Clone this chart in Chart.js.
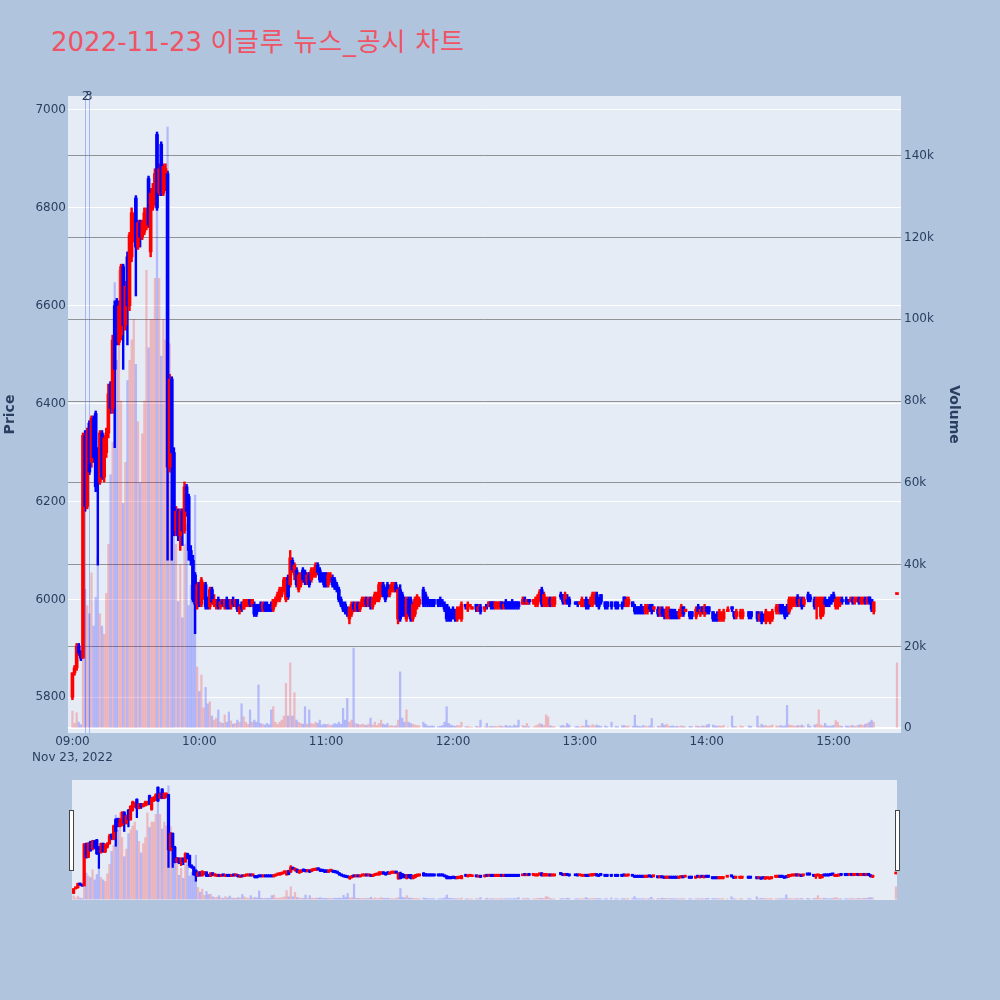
<!DOCTYPE html>
<html><head><meta charset="utf-8">
<script src="https://cdn.jsdelivr.net/npm/chart.js@4.4.0/dist/chart.umd.min.js"></script>
<style>
html,body{margin:0;padding:0;background:#b0c4de;}
#wrap{position:relative;width:1000px;height:1000px;background:#b0c4de;overflow:hidden;}
#title{position:absolute;left:51px;top:24px;font-family:"DejaVu Sans","Noto Sans CJK KR",sans-serif;font-size:26px;line-height:36px;color:#ef5364;white-space:nowrap;}
#title .ko{letter-spacing:0.8px;}
#main{position:absolute;left:0;top:0;}
#slider{position:absolute;left:72px;top:780px;background:#e5ecf6;}
.handle{position:absolute;width:3px;height:59px;top:810px;background:#fff;border:1px solid #444;}
</style></head>
<body><div id="wrap">
<div id="title">2022-11-23 <span class="ko">이글루 뉴스_공시 차트</span></div>
<canvas id="main" width="1000" height="775"></canvas>
<canvas id="slider" width="825" height="120"></canvas>
<div class="handle" style="left:69px"></div>
<div class="handle" style="left:895px"></div>
</div>
<script>
// ---------------- data ----------------
const times = [
"09:00","09:01","09:02","09:03","09:04","09:05","09:06","09:07","09:08","09:09",
"09:10","09:11","09:12","09:13","09:14","09:15","09:16","09:17","09:18","09:19",
"09:20","09:21","09:22","09:23","09:24","09:25","09:26","09:27","09:28","09:29",
"09:30","09:31","09:32","09:33","09:34","09:35","09:36","09:37","09:38","09:39",
"09:40","09:41","09:42","09:43","09:44","09:45","09:46","09:47","09:48","09:49",
"09:50","09:51","09:52","09:53","09:54","09:55","09:56","09:57","09:58","09:59",
"10:00","10:01","10:02","10:03","10:04","10:05","10:06","10:07","10:08","10:09",
"10:10","10:11","10:12","10:13","10:14","10:15","10:16","10:17","10:18","10:19",
"10:20","10:21","10:22","10:23","10:24","10:25","10:26","10:27","10:28","10:29",
"10:30","10:31","10:32","10:33","10:34","10:35","10:36","10:37","10:38","10:39",
"10:40","10:41","10:42","10:43","10:44","10:45","10:46","10:47","10:48","10:49",
"10:50","10:51","10:52","10:53","10:54","10:55","10:56","10:57","10:58","10:59",
"11:00","11:01","11:02","11:03","11:04","11:05","11:06","11:07","11:08","11:09",
"11:10","11:11","11:12","11:13","11:14","11:15","11:16","11:17","11:18","11:19",
"11:20","11:21","11:22","11:23","11:24","11:25","11:26","11:27","11:28","11:29",
"11:30","11:31","11:32","11:33","11:34","11:35","11:36","11:37","11:38","11:39",
"11:40","11:41","11:42","11:43","11:44","11:46","11:47","11:48","11:49",
"11:50","11:51","11:53","11:54","11:55","11:56","11:57","11:58","11:59",
"12:00","12:01","12:02","12:03","12:04","12:06","12:07","12:08","12:09",
"12:11","12:12","12:13","12:15","12:16","12:17","12:18","12:19",
"12:20","12:21","12:22","12:23","12:24","12:25","12:26","12:27","12:28","12:29",
"12:30","12:31","12:33","12:34","12:35","12:36","12:38","12:39",
"12:40","12:41","12:42","12:43","12:44","12:45","12:46","12:47","12:48",
"12:51","12:52","12:53","12:54","12:55","12:58","12:59",
"13:00","13:01","13:02","13:03","13:04","13:05","13:06","13:07","13:08","13:09",
"13:10","13:12","13:13","13:15","13:17","13:18","13:20",
"13:21","13:22","13:23","13:25","13:26","13:27","13:28","13:29",
"13:30","13:31","13:32","13:33","13:34","13:35","13:37","13:38","13:39",
"13:40","13:41","13:42","13:43","13:44","13:45","13:46","13:47","13:48","13:49",
"13:50","13:52","13:53","13:55","13:56","13:57","13:58","13:59",
"14:00","14:01","14:03","14:04","14:05","14:06","14:07","14:08",
"14:10","14:12","14:13","14:14","14:16","14:17","14:20","14:21",
"14:24","14:25","14:26","14:27","14:28","14:29","14:30","14:31",
"14:33","14:34","14:35","14:36","14:37","14:38","14:39","14:40",
"14:41","14:42","14:43","14:44","14:45","14:46","14:48","14:49",
"14:51","14:52","14:53","14:54","14:55","14:56","14:57","14:58","14:59","15:00",
"15:01","15:02","15:03","15:04","15:06","15:07","15:08","15:09","15:10","15:11","15:12","15:13","15:14","15:15","15:16","15:17","15:18","15:19",
"15:30"];

const open = [
5800,5850,5860,5905,5890,5880,6335,6190,6360,6280,
6370,6380,6300,6240,6340,6250,6300,6340,6440,6390,
6600,6610,6525,6540,6680,6560,6700,6600,6700,6740,
6820,6720,6770,6740,6750,6760,6860,6710,6800,6810,
6950,6830,6930,6830,6840,6870,6270,6450,6300,6140,
6180,6130,6180,6140,6230,6210,6100,6080,6050,5990,
6030,5990,6010,6030,6000,5985,6020,5990,5985,6000,
5985,5995,5985,6000,5990,5985,6000,5990,6000,5975,
5990,5980,5990,5990,6000,5990,5990,5985,5990,5990,
5980,5990,5990,5990,5990,5980,5990,6000,6000,6010,
6020,6000,6045,6030,6080,6050,6060,6020,6030,6060,
6055,6035,6050,6040,6050,6050,6070,6060,6050,6050,
6050,6030,6040,6045,6040,6030,6020,6000,5990,5990,
5980,5960,5970,5990,5980,5990,5980,5990,5990,6000,
5990,6000,5985,5995,6000,6000,6010,6030,6020,6030,
6010,6020,6020,6030,5960,6020,6010,6000,5960,6000,
6000,5960,5970,5985,5990,6020,6010,6000,6000,
6000,6000,6000,6000,5995,5990,5990,5980,5980,
5980,5975,5960,5965,5960,5990,5980,5985,5980,
5990,5975,5985,5980,5990,5985,5995,5995,
5985,5985,5985,5995,5985,5995,5995,5995,5995,5995,
5995,5995,5990,6000,5990,6000,5995,5990,
5990,6000,6020,5990,5995,5990,6000,5990,5990,
6010,6010,5995,6000,6000,5995,5995,
5990,5985,5985,6000,5995,5990,5990,5995,6010,6000,
6010,5995,5995,5995,5995,5990,5990,
6005,5985,5990,5995,5985,5985,5985,5985,
5985,5975,5975,5985,5990,5980,5980,5970,5980,
5980,5965,5965,5980,5975,5975,5975,5965,5970,5985,
5975,5975,5975,5965,5985,5970,5985,5970,
5985,5985,5975,5970,5970,5960,5960,5960,
5975,5985,5975,5965,5965,5965,5975,5975,
5975,5960,5970,5970,5955,5960,5955,5960,
5975,5975,5990,5985,5985,5985,5975,5985,
5990,5990,6005,5990,6000,5990,6010,6005,
6000,5985,5990,5965,5970,6000,6000,6000,6005,6010,
5985,5985,5990,6000,6000,6000,5995,6000,5995,5995,6000,5995,5995,6000,5995,6005,6000,5975,
6010];

const high = [
5850,5865,5910,5910,5895,6340,6345,6350,6365,6375,
6375,6385,6310,6345,6345,6335,6350,6440,6445,6540,
6610,6615,6610,6685,6685,6650,6710,6750,6800,6790,
6825,6775,6775,6775,6800,6800,6865,6840,6850,6880,
6955,6890,6935,6890,6890,6875,6460,6455,6310,6190,
6185,6185,6185,6240,6235,6215,6110,6090,6055,6035,
6035,6045,6035,6035,6005,6025,6025,6010,6000,6005,
6000,6000,6000,6005,6000,6000,6005,6000,6000,5990,
5995,6000,6000,6000,6000,6000,5995,5990,5990,5995,
5995,5995,5995,5990,5995,6000,6005,6015,6025,6025,
6045,6045,6050,6100,6085,6075,6065,6055,6055,6065,
6060,6055,6055,6065,6065,6075,6075,6065,6055,6055,
6055,6055,6055,6050,6045,6035,6025,6005,5995,5995,
5985,5985,5995,5995,5995,5995,5995,6005,6005,6005,
6005,6005,6005,6015,6015,6035,6035,6035,6025,6035,
6030,6035,6035,6035,6025,6030,6015,6005,6005,6005,
6005,5995,6005,6010,6005,6025,6015,6005,6000,
6000,6000,6000,6005,6000,5995,5990,5985,5980,
5985,5980,5985,5985,5995,5990,5995,5990,5985,
5990,5990,5990,5985,5990,5995,5995,5995,
5995,5995,5995,5995,5995,6000,5995,5995,6000,5995,
5995,5995,6005,6005,6000,6000,6000,6005,
6010,6020,6025,6015,6005,6005,6005,6005,6005,
6015,6010,6015,6010,6005,5995,5995,
5995,6005,6000,6005,6000,6005,6015,6015,6015,6005,
6010,5995,5995,5995,5995,5995,5995,
6005,6005,6005,5995,5990,5985,5985,5990,
5985,5990,5990,5990,5990,5985,5985,5985,5985,
5980,5985,5985,5980,5980,5980,5975,5980,5990,5985,
5980,5975,5975,5985,5990,5985,5985,5990,
5985,5985,5975,5970,5975,5980,5975,5980,
5985,5985,5975,5980,5980,5980,5975,5975,
5975,5975,5975,5970,5980,5975,5975,5980,
5990,5990,5990,5990,5985,5990,6005,6005,
6005,6005,6010,6005,6005,6005,6015,6010,
6005,6005,6005,6005,6005,6005,6000,6005,6010,6015,
6005,6005,6005,6005,6005,6000,6005,6005,6005,6005,6005,6005,6005,6005,6005,6005,6000,5995,
6010];

const low = [
5795,5845,5855,5885,5875,5880,6180,6185,6255,6270,
6280,6220,6070,6235,6245,6240,6290,6330,6380,6380,
6310,6520,6520,6530,6470,6550,6520,6590,6690,6730,
6620,6715,6720,6735,6745,6755,6760,6700,6795,6805,
6795,6825,6825,6825,6835,6080,6260,6080,6130,6130,
6120,6100,6110,6135,6170,6080,6070,5995,5930,5980,
5985,5985,6000,5980,5980,5980,5990,5985,5980,5980,
5980,5985,5980,5980,5980,5980,5985,5985,5975,5970,
5975,5980,5985,5985,5985,5985,5965,5965,5975,5975,
5975,5975,5975,5975,5975,5975,5985,5995,5995,6005,
6015,5995,6000,6025,6055,6040,6025,6015,6025,6035,
6030,6030,6025,6035,6045,6045,6050,6035,6035,6025,
6025,6025,6035,6025,6020,6015,5995,5985,5975,5970,
5965,5950,5965,5975,5975,5975,5975,5985,5985,5985,
5985,5980,5980,5990,5995,5995,6005,6005,5995,6005,
6005,6015,6015,6015,5950,5955,5965,5965,5955,5965,
5955,5955,5965,5980,5985,5985,5985,5985,5985,
5985,5985,5985,5985,5985,5975,5955,5955,5955,
5960,5955,5955,5960,5955,5980,5975,5985,5980,
5975,5975,5970,5975,5980,5985,5980,5980,
5980,5980,5980,5980,5980,5980,5980,5980,5980,5980,
5980,5980,5990,5990,5990,5990,5990,5985,
5985,5995,5985,5985,5985,5985,5985,5985,5985,
6000,5990,5990,5990,5985,5990,5985,
5990,5985,5985,5980,5980,5985,5985,5990,5985,5980,
5990,5980,5980,5980,5980,5980,5980,
5985,5985,5985,5985,5970,5970,5970,5970,
5970,5970,5970,5975,5970,5975,5965,5965,5965,
5960,5960,5960,5960,5960,5960,5960,5960,5965,5965,
5975,5960,5960,5960,5970,5965,5970,5965,
5970,5970,5955,5955,5955,5955,5955,5955,
5975,5975,5960,5960,5960,5960,5960,5960,
5955,5955,5950,5955,5950,5955,5950,5955,
5970,5970,5970,5970,5960,5965,5970,5980,
5985,5985,5985,5985,5980,5985,5995,5995,
5980,5960,5985,5960,5965,5985,5985,5985,5990,5995,
5980,5980,5985,5990,5990,5990,5995,5990,5990,5995,5990,5990,5990,5990,5990,5990,5975,5970,
6010];

const close = [
5850,5860,5905,5890,5880,6335,6190,6340,6260,6370,
6290,6230,6240,6340,6250,6330,6340,6420,6390,6530,
6470,6530,6600,6680,6560,6640,6600,6745,6790,6780,
6720,6770,6740,6770,6790,6790,6765,6830,6840,6870,
6800,6880,6830,6885,6880,6270,6450,6300,6140,6180,
6130,6180,6140,6230,6180,6100,6080,6000,5990,6030,
5990,6040,6030,5985,5985,6020,5995,6000,6000,5985,
5995,5990,6000,5985,5985,6000,5990,6000,5980,5985,
5980,5995,6000,6000,5990,6000,5970,5970,5980,5980,
5990,5980,5980,5980,5980,6000,6000,6010,6020,6020,
6040,6040,6005,6085,6060,6070,6030,6050,6050,6040,
6035,6050,6030,6060,6060,6070,6055,6040,6040,6030,
6030,6050,6050,6030,6025,6020,6000,5990,5980,5975,
5970,5980,5990,5980,5990,5980,5990,6000,6000,5990,
6000,5985,6000,6010,6010,6030,6030,6010,6000,6010,
6020,6030,6030,6020,6020,5960,5970,5970,6000,5970,
5960,5990,6000,6005,6000,5990,5990,5990,5990,
5990,5990,5990,5990,5990,5980,5960,5960,5960,
5965,5960,5980,5980,5990,5985,5990,5990,5985,
5980,5985,5975,5985,5985,5995,5985,5985,
5995,5990,5995,5985,5990,5985,5985,5985,5985,5985,
5985,5985,6000,5995,6000,5995,6000,6000,
6005,6015,5990,6010,6000,6000,5990,6000,6005,
6005,5995,6010,5995,5990,5990,5990,
5995,6000,5995,5985,5985,6000,6010,6010,5990,5985,
5995,5985,5985,5985,5985,5985,5985,
5990,6000,6000,5985,5975,5975,5975,5975,
5975,5985,5985,5980,5975,5985,5970,5980,5970,
5965,5980,5980,5965,5965,5965,5965,5975,5985,5970,
5980,5965,5965,5980,5975,5980,5975,5985,
5975,5975,5960,5960,5960,5975,5970,5975,
5980,5980,5965,5975,5975,5975,5965,5965,
5960,5970,5955,5960,5975,5970,5970,5975,
5985,5985,5975,5975,5965,5970,6000,6000,
6000,6000,5990,6000,5985,6000,6000,6000,
5985,6000,6000,6000,6000,5990,5990,5990,5995,6000,
6000,6000,6000,5995,5995,5995,6000,5995,6000,6000,5995,6000,6000,5995,6000,5995,5980,5995,
6010];

const volume = [
4200,1200,3800,1500,900,40000,34000,30000,28000,38000,
25000,32000,42000,28000,25000,23000,33000,45000,62000,70000,
109000,90000,112000,80000,55000,65000,85000,90000,95000,100000,
89000,75000,60000,72000,80000,112000,93000,100000,100000,110000,
145000,110000,91000,100000,95000,147000,94000,80000,60000,45000,
31000,40000,27000,45000,50000,30000,35000,34000,57000,15000,
9000,13000,5000,10000,6000,6500,3000,2000,2500,4500,
1500,1200,3300,1500,4000,1800,1000,1200,2000,1500,
6000,2800,1500,1000,4500,1500,2000,1500,10600,1200,
1000,800,1200,900,4500,5300,1500,1000,1500,2000,
3000,11000,3000,16000,3000,8700,2000,1500,1200,1000,
5300,1000,4500,1200,1000,1500,1200,2000,800,1000,
900,1000,700,800,1200,1000,1500,1000,4900,2000,
7300,1500,2000,19600,1200,1000,800,1000,900,700,
1000,2500,800,1500,700,1200,2000,1000,800,1200,
600,700,500,600,2000,13800,2500,1500,4500,1500,
1200,1000,800,700,600,1500,1000,600,500,
600,500,400,500,700,1500,5300,1200,800,
600,500,700,600,1500,400,500,300,300,
500,400,2000,300,1200,400,500,400,
500,400,600,500,400,700,500,600,400,800,
600,2000,700,500,1200,400,300,600,
800,1200,1000,700,3300,2800,600,500,400,
600,700,500,1200,800,400,500,
300,600,500,2000,700,500,900,600,800,600,
500,600,400,1500,500,400,600,
700,500,600,500,3200,600,500,400,
700,500,400,600,2400,300,500,600,1200,
700,1000,600,500,600,400,500,400,600,500,
300,500,400,600,500,400,600,500,
800,1000,800,600,500,600,500,700,
300,3000,500,400,600,500,600,500,
3000,500,1000,600,700,500,600,800,
600,500,700,500,600,5600,800,700,
600,500,700,600,800,500,1000,500,
800,1000,4500,800,600,1200,600,500,600,700,
1900,1500,600,500,600,500,600,700,500,600,800,900,700,1000,1200,1500,2000,1500,
16000];

const priceTicks = [5800, 6000, 6200, 6400, 6600, 6800, 7000];
const volumeTicks = [0, 20000, 40000, 60000, 80000, 100000, 120000, 140000];
const volumeTickLabels = ["0", "20k", "40k", "60k", "80k", "100k", "120k", "140k"];
const hourTicks = ["09:00", "10:00", "11:00", "12:00", "13:00", "14:00", "15:00"];
const dateLabel = "Nov 23, 2022";
const newsTimes = ["09:06:10", "09:07:45"];
const newsLabels = ["2", "3"];

// ---------------- helpers ----------------
function toMin(t) { const p = t.split(':').map(Number); return (p[0] - 9) * 60 + p[1] + (p[2] || 0) / 60; }
const xs = times.map(toMin);
const isUp = open.map((o, i) => close[i] >= o);
const candleCol = isUp.map(u => u ? '#ff0000' : '#0000ff');
const volCol = isUp.map(u => u ? 'rgba(255,0,0,0.22)' : 'rgba(0,0,255,0.22)');
const bodyData = xs.map((x, i) => ({ x: x, y: [open[i], close[i]] }));
const wickData = xs.map((x, i) => ({ x: x, y: [low[i], high[i]] }));
const volData = xs.map((x, i) => ({ x: x, y: volume[i] }));

const FONT = '"DejaVu Sans", Verdana, sans-serif';
Chart.defaults.font.family = FONT;
Chart.defaults.color = '#2a3f5f';
const TXT = '#2a3f5f';

const bgPlugin = {
  id: 'bg',
  beforeDraw(c) {
    const a = c.chartArea, ctx = c.ctx;
    ctx.save(); ctx.fillStyle = '#e5ecf6';
    ctx.fillRect(a.left, a.top, a.right - a.left, a.bottom - a.top);
    ctx.restore();
  }
};
const newsPlugin = {
  id: 'news',
  beforeDatasetsDraw(c) {
    const a = c.chartArea, ctx = c.ctx, sx = c.scales.x;
    ctx.save();
    ctx.strokeStyle = 'rgba(100,130,240,0.5)'; ctx.lineWidth = 1;
    newsTimes.forEach(t => {
      const px = Math.round(sx.getPixelForValue(toMin(t))) + 0.5;
      ctx.beginPath(); ctx.moveTo(px, a.top); ctx.lineTo(px, a.bottom); ctx.stroke();
    });
    ctx.restore();
  },
  afterDraw(c) {
    const a = c.chartArea, ctx = c.ctx, sx = c.scales.x;
    ctx.save();
    ctx.fillStyle = TXT; ctx.font = '12px ' + FONT;
    ctx.textAlign = 'center'; ctx.textBaseline = 'middle';
    newsTimes.forEach((t, i) => {
      ctx.fillText(newsLabels[i], sx.getPixelForValue(toMin(t)), a.top + 1);
    });
    ctx.restore();
  }
};

function datasets(bodyW, wickW, volW) {
  return [
    { type: 'bar', data: bodyData, yAxisID: 'y', backgroundColor: candleCol, barThickness: bodyW, minBarLength: 2, grouped: false, order: 1 },
    { type: 'bar', data: wickData, yAxisID: 'y', backgroundColor: candleCol, barThickness: wickW, grouped: false, order: 2 },
    { type: 'bar', data: volData, yAxisID: 'y2', backgroundColor: volCol, barThickness: volW, grouped: false, order: 3 }
  ];
}

new Chart(document.getElementById('main'), {
  type: 'bar',
  data: { datasets: datasets(3, 1.8, 1.6) },
  plugins: [bgPlugin, newsPlugin],
  options: {
    responsive: false, animation: false, devicePixelRatio: 1,
    layout: { padding: { top: 96, left: 0, right: 37, bottom: 0 } },
    plugins: { legend: { display: false }, tooltip: { enabled: false } },
    scales: {
      x: {
        type: 'linear', min: -2.1, max: 391.9, offset: false, bounds: 'ticks',
        grid: { display: false, drawTicks: false, offset: false }, border: { display: false },
        afterBuildTicks: s => { s.ticks = hourTicks.map(toMin).map(v => ({ value: v })); },
        afterFit: s => { s.height = 42; },
        ticks: {
          padding: 1, color: TXT, font: { size: 12, lineHeight: 1.33 }, maxRotation: 0, autoSkip: false,
          callback: (v, i) => i === 0 ? [hourTicks[0], dateLabel] : hourTicks[i]
        }
      },
      y: {
        position: 'left', min: 5727, max: 7028.6,
        grid: { color: '#ffffff', lineWidth: 1, drawTicks: false }, border: { display: false },
        afterBuildTicks: s => { s.ticks = priceTicks.map(v => ({ value: v })); },
        afterFit: s => { s.width = 68; },
        ticks: { padding: 2, color: TXT, font: { size: 12 }, callback: v => String(v) },
        title: { display: true, text: 'Price', color: TXT, font: { size: 14, weight: 'bold' }, padding: { top: 2, bottom: 0 } }
      },
      y2: {
        position: 'right', min: -1150, max: 154600,
        grid: {
          drawTicks: false,
          color: c => c.tick && c.tick.value === 0 ? '#ffffff' : 'rgba(110,110,110,0.7)',
          lineWidth: c => c.tick && c.tick.value === 0 ? 2 : 1
        },
        border: { display: false },
        afterBuildTicks: s => { s.ticks = volumeTicks.map(v => ({ value: v })); },
        afterFit: s => { s.width = 62; },
        ticks: { padding: 3, color: TXT, font: { size: 12 }, callback: (v, i) => volumeTickLabels[volumeTicks.indexOf(v)] },
        title: { display: true, text: 'Volume', color: TXT, font: { size: 14, weight: 'bold' }, padding: { top: 1, bottom: 0 } }
      }
    }
  }
});

new Chart(document.getElementById('slider'), {
  type: 'bar',
  data: { datasets: datasets(2.6, 1.6, 1.6) },
  options: {
    responsive: false, animation: false, devicePixelRatio: 1,
    layout: { padding: 0 },
    plugins: { legend: { display: false }, tooltip: { enabled: false } },
    scales: {
      x: { type: 'linear', min: -0.76, max: 390.5, offset: false, display: false, grid: { offset: false } },
      y: { min: 5727, max: 7028.6, display: false },
      y2: { min: -1150, max: 154600, display: false, position: 'right' }
    }
  }
});
</script>
</body></html>
